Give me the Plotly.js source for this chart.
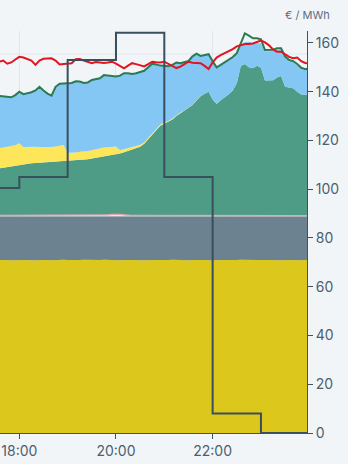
<!DOCTYPE html>
<html>
<head>
<meta charset="utf-8">
<script src="https://cdn.plot.ly/plotly-3.0.1.min.js"></script>
<style>
html,body{margin:0;padding:0;background:#f2f5f8;}
#chart{width:348px;height:464px;}
</style>
</head>
<body>
<div id="chart"></div>
<script>
// 5-minute timestamps from 17:35 to 24:00
const startTime = '2024-01-01T17:35:00';
const stepMinutes = 5;
const nPoints = 78;

// stacked generation layers (bottom to top)
const solidBase = [71.0,71.1,71.0,70.9,71.0,71.1,71.0,71.0,70.9,71.0,71.1,71.0,71.0,70.9,71.0,71.0,71.1,71.0,70.9,71.0,71.0,71.1,71.0,71.0,70.9,71.0,71.1,71.0,71.0,71.0,70.9,71.0,71.1,71.0,71.0,70.9,71.0,71.0,71.1,71.0,71.0,70.9,71.0,71.1,71.0,71.0,71.0,70.9,71.0,71.1,71.0,71.0,70.9,71.0,71.0,71.1,71.0,71.0,70.9,71.0,71.1,71.0,71.0,70.9,71.0,71.0,71.1,71.0,71.0,70.9,71.0,71.1,71.0,71.0,70.9,71.0,71.0,71.0];
const grayLayer = [17.9,17.8,17.9,18.0,17.9,17.8,17.9,17.9,18.0,17.9,17.8,17.9,17.9,18.0,17.9,17.9,17.8,17.9,18.0,17.9,17.9,17.8,17.9,17.9,18.0,17.9,17.8,17.9,17.9,17.9,18.0,17.9,17.8,17.9,17.9,18.0,17.9,17.9,17.8,17.9,17.9,18.0,17.9,17.8,17.9,17.9,17.9,18.0,17.9,17.8,17.9,17.9,18.0,17.9,17.9,17.8,17.9,17.9,18.0,17.9,17.8,17.9,17.9,18.0,17.9,17.9,17.8,17.9,17.9,18.0,17.9,17.8,17.9,17.9,18.0,17.9,17.9,17.9];
const otherLayer = [0.4,0.4,0.4,0.4,0.4,0.4,0.4,0.4,0.4,0.4,0.4,0.4,0.4,0.4,0.4,0.4,0.4,0.4,0.4,0.4,0.3,0.3,0.3,0.4,0.4,0.4,0.4,0.6,0.8,0.9,0.8,0.6,0.4,0.4,0.4,0.4,0.4,0.4,0.4,0.4,0.4,0.4,0.4,0.4,0.6,0.6,0.6,0.6,0.4,0.4,0.4,0.4,0.4,0.4,0.4,0.4,0.4,0.4,0.4,0.4,0.4,0.4,0.4,0.4,0.4,0.4,0.4,0.4,0.4,0.4,0.3,0.3,0.3,0.3,0.3,0.3,0.3,0.3];
const greenLayer = [19.2,19.5,19.8,20.1,20.3,20.7,21.0,21.2,21.4,21.5,21.6,21.7,21.8,21.9,21.9,22.0,22.1,22.3,22.4,22.5,22.8,22.9,23.1,23.3,23.6,23.8,24.0,24.1,24.2,24.3,24.9,25.7,26.5,27.0,27.5,28.1,29.3,31.1,33.2,35.1,36.7,37.6,38.3,39.3,40.5,41.8,42.8,43.9,45.2,47.1,48.8,49.9,50.7,47.5,45.7,47.2,48.3,49.7,51.2,54.2,61.2,62.1,60.7,60.3,61.3,60.5,55.3,55.2,55.4,56.5,57.2,52.8,52.5,52.2,50.8,49.7,49.5,49.5];
const yellowLayer = [8.3,8.2,8.2,8.3,8.4,8.9,7.0,6.9,6.8,6.6,6.4,6.2,6.1,6.1,6.3,6.4,6.7,3.4,3.2,3.3,3.4,3.3,3.4,3.4,3.5,3.7,3.8,3.6,3.4,3.4,1.4,1.2,1.0,0.8,0.7,0.8,0.6,0.6,0.6,0.6,0.5,0.5,0.4,0.4,0.3,0.2,0.1,0.1,0.1,0.1,0.1,0,0,0,0,0,0,0,0,0,0,0,0,0,0,0,0,0,0,0,0,0,0,0,0,0,0,0];
const blueLayer = [21.5,21.2,20.5,20.0,20.6,21.1,21.7,21.9,22.3,23.1,24.7,23.3,22.0,21.1,24.5,25.6,25.3,28.4,28.7,29.2,28.8,28.2,28.1,28.8,28.8,28.7,29.7,29.4,28.9,28.7,30.6,31.2,30.8,30.2,30.1,29.8,29.4,29.0,28.4,26.2,24.2,23.2,22.4,22.0,21.7,20.2,19.6,19.1,19.9,19.1,16.5,15.8,15.4,15.7,15.0,14.5,14.4,14.0,13.7,12.3,8.5,8.9,10.5,10.4,9.3,10.1,12.0,12.1,12.0,11.5,10.9,11.9,10.8,10.6,10.9,10.4,10.1,10.4];

// lines
const loadLine = [138.3,138.2,137.8,137.7,138.6,140.0,139.0,139.3,139.8,140.5,142.0,140.5,139.2,138.4,142.0,143.3,143.4,143.4,143.6,144.3,144.2,143.6,143.8,144.8,145.2,145.5,146.8,146.6,146.2,146.2,146.6,147.6,147.6,147.3,147.6,148.0,148.6,150.0,151.5,151.2,150.7,150.6,150.4,151.0,152.0,151.7,152.0,152.6,154.5,155.6,154.7,155.0,155.4,152.5,150.0,151.0,152.0,153.0,154.2,155.8,159.5,163.9,163.0,161.9,161.9,161.5,157.1,157.1,157.2,157.8,157.8,154.4,153.0,152.5,151.4,149.8,149.2,149.6];
const redLine = [152.3,152.8,151.5,152.0,153.2,154.3,154.0,153.4,152.8,151.0,152.8,153.5,153.7,153.7,152.8,151.2,151.4,151.7,151.7,153.3,153.4,152.8,152.4,151.7,152.2,152.0,151.8,152.0,152.3,151.5,150.5,149.6,150.7,151.7,151.3,150.8,150.4,151.3,152.3,152.1,152.0,152.3,151.4,150.6,149.7,150.3,151.3,152.3,151.9,151.7,151.7,150.6,149.3,152.0,154.0,155.0,155.8,156.8,157.5,158.6,159.2,159.6,159.6,159.8,160.4,161.0,160.2,159.0,157.3,156.4,156.4,155.4,154.3,153.7,154.0,152.5,151.8,151.5];

// hourly price (step)
const priceTimes = ['2024-01-01 17:35','2024-01-01 18:00','2024-01-01 19:00','2024-01-01 20:00','2024-01-01 21:00','2024-01-01 22:00','2024-01-01 23:00','2024-01-02 00:00'];
const priceValues = [100.5,105,153,164.2,105,8,0,0];

const tickVals = ['2024-01-01 18:00','2024-01-01 20:00','2024-01-01 22:00'];
const tickText = ['18:00','20:00','22:00'];

function pad(n){return (n<10?'0':'')+n;}
const times = [];
{
  const t0 = new Date(startTime + 'Z').getTime();
  for (let i = 0; i < nPoints; i++) {
    const d = new Date(t0 + i*stepMinutes*60000);
    times.push(d.getUTCFullYear()+'-'+pad(d.getUTCMonth()+1)+'-'+pad(d.getUTCDate())+' '+pad(d.getUTCHours())+':'+pad(d.getUTCMinutes()));
  }
}

function area(y, fill, lineColor, lineWidth){
  return {x: times, y: y, type:'scatter', mode:'lines', stackgroup:'one',
    fillcolor: fill, line:{color: lineColor||fill, width: lineWidth||0, shape:'linear'}, hoverinfo:'skip'};
}

const traces = [
  area(solidBase, '#dcc71c'),
  area(grayLayer, '#6c8290'),
  area(otherLayer, '#e4e8ec', '#e8a3b4', 1.2),
  area(greenLayer, '#4e9c86'),
  area(yellowLayer, '#fde65a'),
  area(blueLayer, '#84c7f4'),
  {x: times, y: loadLine, type:'scatter', mode:'lines', line:{color:'#2b7a52', width:2}, hoverinfo:'skip'},
  {x: times, y: redLine, type:'scatter', mode:'lines', line:{color:'#e1141f', width:2}, hoverinfo:'skip'},
  {x: priceTimes, y: priceValues, type:'scatter', mode:'lines', line:{color:'#3a4f5e', width:2, shape:'hv'}, hoverinfo:'skip'}
];

const axisColor = '#3d5262';
const layout = {
  width: 348, height: 464,
  paper_bgcolor: '#f2f5f8', plot_bgcolor: '#f2f5f8',
  margin: {l:0, r:41, t:31, b:31, pad:0},
  showlegend: false,
  font: {family: 'Inter, Roboto, sans-serif', color: '#4a5f70'},
  xaxis: {
    type:'date', range:['2024-01-01 17:36:00','2024-01-01 23:57:10'],
    tickmode:'array', tickvals: tickVals, ticktext: tickText,
    ticks:'outside', ticklen:5, tickwidth:1, tickcolor: axisColor,
    showline:true, linecolor: axisColor, linewidth:1,
    showgrid:true, gridcolor:'#e2e7ec', gridwidth:1, zeroline:false,
    tickfont:{size:14, color:'#4a5f70'}
  },
  yaxis: {
    side:'right', range:[0,164.9], dtick:20, tick0:0,
    ticks:'outside', ticklen:5, tickwidth:1, tickcolor: axisColor,
    showline:true, linecolor: axisColor, linewidth:1,
    showgrid:false, zeroline:false,
    tickfont:{size:14, color:'#4a5f70'}
  },
  shapes: [
    {type:'line', xref:'paper', yref:'paper', x0:0, x1:1, y0:0.9428, y1:0.9428, line:{color:'#e2e7ec', width:1}, layer:'below'}
  ],
  annotations: [
    {xref:'paper', yref:'paper', x:1, y:1.0405, xanchor:'center', yanchor:'middle', showarrow:false,
     text:'€ / MWh', font:{size:11, color:'#5d6d7c', family:'Inter, Roboto, sans-serif'}}
  ]
};

Plotly.newPlot('chart', traces, layout, {displayModeBar:false, staticPlot:true});
</script>
</body>
</html>
